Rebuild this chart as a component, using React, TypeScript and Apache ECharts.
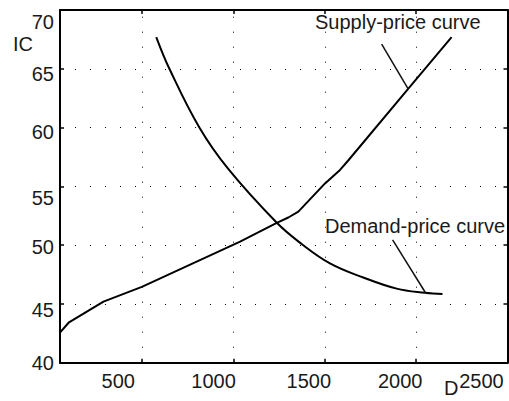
import React, { useEffect, useRef } from "react";
import * as echarts from "echarts";

// ---- data ----
const supplyD = [52, 97, 288, 498, 1036, 1237, 1300, 1355, 1501, 1583, 1628, 1956, 2194];
const supplyIC = [42.6, 43.4, 45.2, 46.45, 50.3, 51.9, 52.35, 52.85, 55.25, 56.4, 57.2, 63.3, 67.7];

const demandD = [577, 649, 813, 970, 1237, 1373, 1528, 1710, 1893, 2048, 2144];
const demandIC = [67.7, 65, 60, 56.5, 51.9, 50.1, 48.45, 47.25, 46.3, 45.95, 45.85];

const supplyLeaderD = [1811, 1956];
const supplyLeaderIC = [67.1, 63.3];
const demandLeaderD = [1871, 2051];
const demandLeaderIC = [50.45, 45.95];

const xTicks = [500, 1000, 1500, 2000, 2500];
const xGridValues = [500, 1000, 1500, 2000];
const yTicks = [40, 45, 50, 55, 60, 65, 70];

const supplyLabel = "Supply-price curve";
const demandLabel = "Demand-price curve";
const xName = "D";
const yName = "IC";

// ---- style (label nudges in px) ----
const xLabelShiftLeft: Record<number, number> = { 500: 24, 1000: 20, 1500: 16, 2000: 16, 2500: 26 };
const yLabelShiftDown: Record<number, number> = { 40: 0, 45: 6, 50: 2, 55: 12, 60: 4, 65: 5, 70: 12 };

const FONT = "'Liberation Sans', Arial, Helvetica, sans-serif";
const TXT = "#1a1a1a";

const zip = (a: number[], b: number[]) => a.map((v, i) => [v, b[i]]);

export default function App() {
  const ref = useRef<HTMLDivElement>(null);
  useEffect(() => {
    if (!ref.current) return;
    const chart = echarts.init(ref.current, null, { renderer: "svg" });

    const xRich: any = {};
    xTicks.forEach((v) => {
      xRich["x" + v] = {
        fontSize: 20,
        fontFamily: FONT,
        color: TXT,
        padding: [0, 2 * xLabelShiftLeft[v], 0, 0],
      };
    });
    const yRich: any = {};
    yTicks.forEach((v) => {
      yRich["y" + v] = {
        fontSize: 20,
        fontFamily: FONT,
        color: TXT,
        padding: [2 * yLabelShiftDown[v], 0, 0, 0],
      };
    });

    const axisLine = { show: true, lineStyle: { color: "#000", width: 2 } };
    const tick = { show: true, inside: true, length: 4, lineStyle: { color: "#000", width: 1.5 } };
    const dotted = { type: [1, 14] as any, color: "#000", width: 1 };

    const option: any = {
      animation: false,
      backgroundColor: "#fff",
      grid: { left: 60, top: 10, right: 1.5, bottom: 38.3, containLabel: false },
      xAxis: [
        {
          type: "value",
          min: 50,
          max: 2500,
          position: "bottom",
          axisLine,
          axisTick: { ...tick, customValues: xTicks },
          axisLabel: {
            customValues: xTicks,
            margin: 8,
            formatter: (v: number) => `{x${v}|${v}}`,
            rich: xRich,
            fontSize: 20,
            fontFamily: FONT,
            color: TXT,
          },
          splitLine: { show: false },
        },
        {
          type: "value",
          min: 50,
          max: 2500,
          position: "top",
          axisLine,
          axisTick: { ...tick, customValues: xTicks },
          axisLabel: { show: false },
          splitLine: { show: false },
        },
      ],
      yAxis: [
        {
          type: "value",
          min: 40,
          max: 70,
          interval: 5,
          position: "left",
          axisLine,
          axisTick: tick,
          axisLabel: {
            margin: 6,
            formatter: (v: number) => `{y${v}|${v}}`,
            rich: yRich,
            fontSize: 20,
            fontFamily: FONT,
            color: TXT,
          },
          splitLine: { show: true, lineStyle: dotted },
        },
        {
          type: "value",
          min: 40,
          max: 70,
          interval: 5,
          position: "right",
          axisLine,
          axisTick: tick,
          axisLabel: { show: false },
          splitLine: { show: false },
        },
      ],
      series: [
        {
          type: "line",
          data: zip(supplyD, supplyIC),
          showSymbol: false,
          symbol: "none",
          lineStyle: { color: "#000", width: 2 },
          markLine: {
            silent: true,
            symbol: ["none", "none"],
            label: { show: false },
            lineStyle: dotted,
            data: xGridValues.map((v) => ({ xAxis: v })),
          },
          z: 3,
        },
        {
          type: "line",
          data: zip(demandD, demandIC),
          showSymbol: false,
          symbol: "none",
          smooth: 0.4,
          lineStyle: { color: "#000", width: 2 },
          z: 3,
        },
        {
          type: "line",
          data: zip(supplyLeaderD, supplyLeaderIC),
          showSymbol: false,
          symbol: "none",
          lineStyle: { color: "#111", width: 1.5 },
        },
        {
          type: "line",
          data: zip(demandLeaderD, demandLeaderIC),
          showSymbol: false,
          symbol: "none",
          lineStyle: { color: "#111", width: 1.5 },
        },
      ],
      graphic: [
        {
          type: "text",
          x: 315,
          y: 22,
          style: { text: supplyLabel, fontSize: 20, fontFamily: FONT, fill: TXT, align: "left", verticalAlign: "middle" },
        },
        {
          type: "text",
          x: 325,
          y: 226,
          style: { text: demandLabel, fontSize: 20, fontFamily: FONT, fill: TXT, align: "left", verticalAlign: "middle" },
        },
        {
          type: "text",
          x: 13,
          y: 43.5,
          style: { text: yName, fontSize: 20, fontFamily: FONT, fill: TXT, align: "left", verticalAlign: "middle" },
        },
        {
          type: "text",
          x: 444,
          y: 388,
          style: { text: xName, fontSize: 20, fontFamily: FONT, fill: TXT, align: "left", verticalAlign: "middle" },
        },
      ],
    };
    chart.setOption(option);
    return () => chart.dispose();
  }, []);
  return (
    <div
      ref={ref}
      style={{ position: "absolute", left: 0, top: 0, width: 509, height: 401 }}
    />
  );
}
